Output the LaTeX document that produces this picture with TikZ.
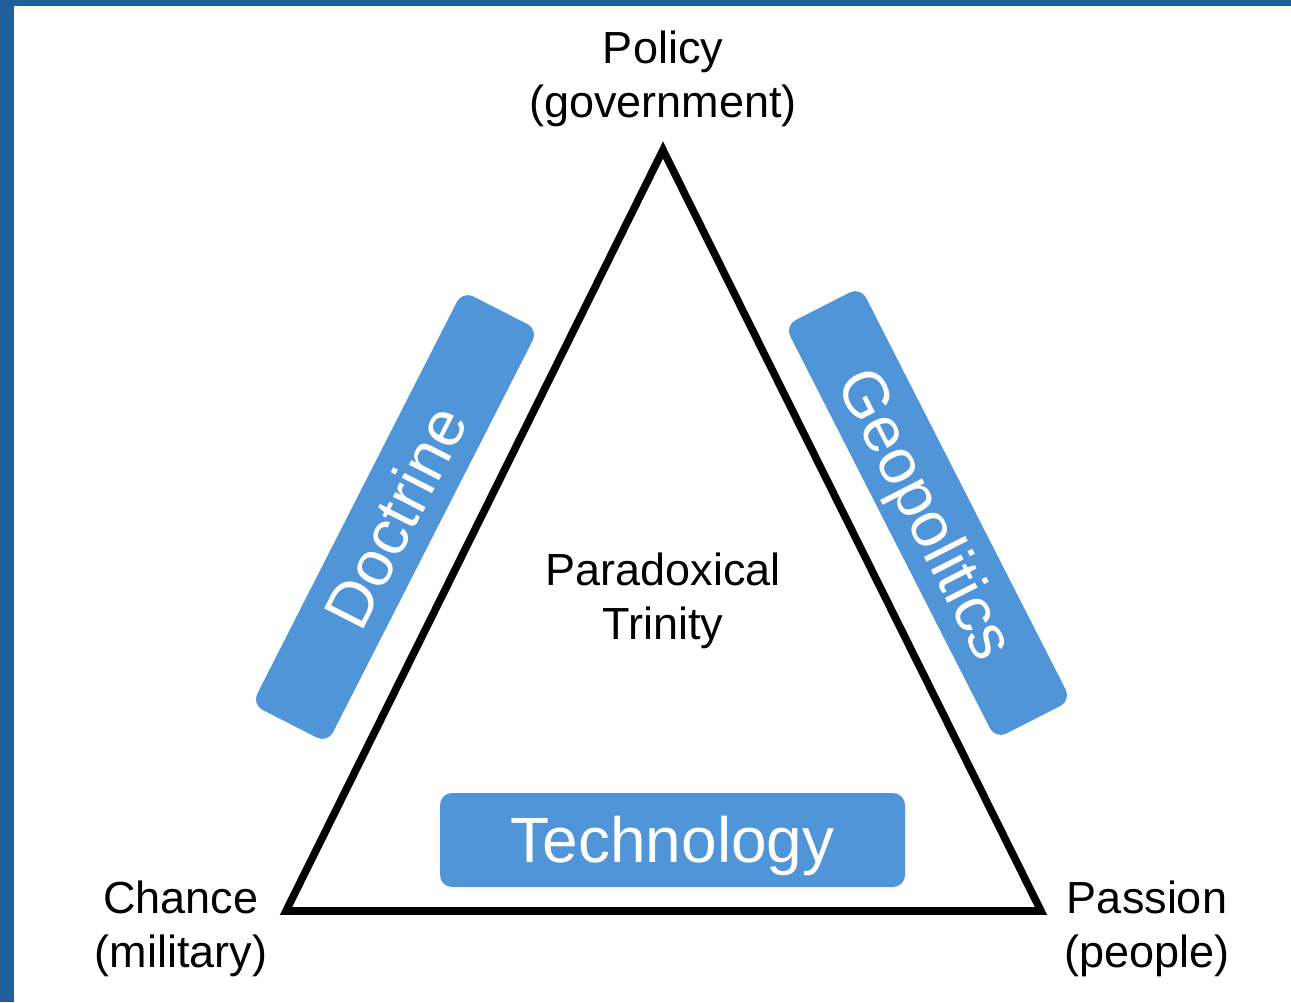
\documentclass[tikz,border=0pt]{standalone}
\usepackage{fontspec}
\setmainfont{Liberation Sans}
\usetikzlibrary{positioning}

\definecolor{rahmenblau}{RGB}{31,95,155}
\definecolor{feldblau}{RGB}{80,149,216}

\begin{document}
\begin{tikzpicture}[>=latex,x=0.5pt,y=-0.5pt]

\def\bildbreite{1291}
\def\bildhoehe{1002}

\tikzset{
	beschriftung/.style={align=center,inner sep=0pt,
		font=\fontsize{22.5}{27}\selectfont},
	feld/.style={fill=feldblau,rounded corners=6pt,inner sep=0pt,
		text=white,text height=22.9pt,text depth=0pt,
		font=\fontsize{32}{32}\selectfont}
}

\useasboundingbox (0,0) rectangle ({\bildbreite},{\bildhoehe});
\fill[white] (0,0) rectangle ({\bildbreite},{\bildhoehe});

% Rahmen oben und links
\fill[rahmenblau] (0,0) rectangle ({\bildbreite},6);
\fill[rahmenblau] (0,0) rectangle (14,{\bildhoehe});

% Dreieck
\coordinate (spitze) at (663,150);
\coordinate (linksunten) at (286,911);
\coordinate (rechtsunten) at (1041,911);
\draw[line width=3.8pt,line join=miter]
	(spitze) -- (linksunten) -- (rechtsunten) -- cycle;

\node (politik) at (663,79)
	[beschriftung]
	{Policy\\(government)};

\node (zufall) at (181,929)
	[beschriftung]
	{Chance\\(military)};

\node (leidenschaft) at (1147,929)
	[beschriftung]
	{Passion\\(people)};

\node (trinitaet) at (663,601)
	[beschriftung]
	{Paradoxical\\Trinity};

\node (doktrin) at (395,517)
	[feld,rotate=63,minimum width=232pt,minimum height=42.5pt]
	{Doctrine};

\node (geopolitik) at (928,513)
	[feld,rotate=-63,minimum width=232pt,minimum height=42.5pt]
	{Geopolitics};

\node (technik) at (672.5,840)
	[feld,minimum width=232.5pt,minimum height=47pt]
	{Technology};

\end{tikzpicture}
\end{document}
